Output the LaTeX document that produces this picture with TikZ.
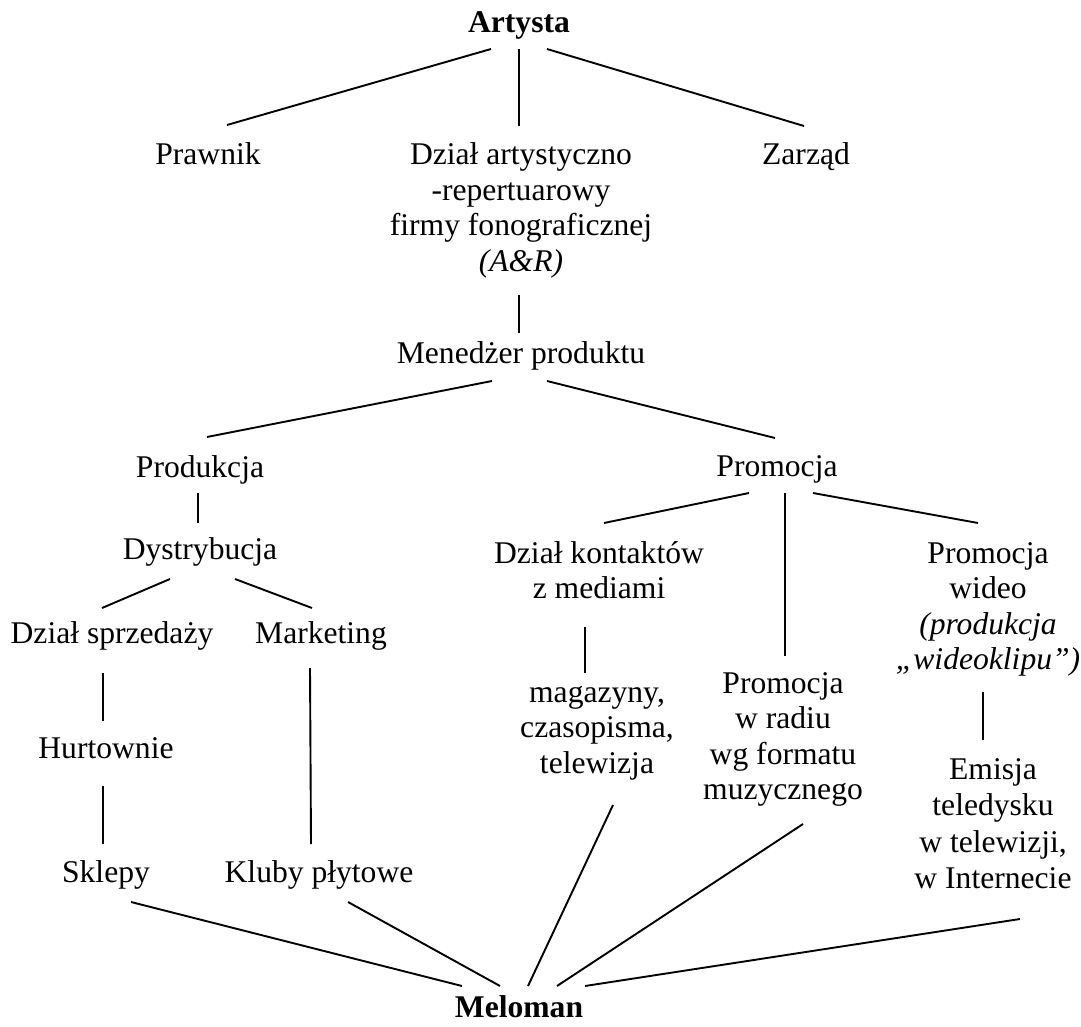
\documentclass[tikz,border=0pt]{standalone}
\usepackage{fontspec}
\setmainfont{Liberation Serif}
\usetikzlibrary{calc}
\newcommand{\mlt}[1]{\begin{tabular}[t]{@{}c@{}}#1\end{tabular}}
\begin{document}
\begin{tikzpicture}[x=0.5pt,y=-0.5pt,
  lbl/.style={font=\fontsize{15.8}{17.75}\selectfont, inner sep=0pt, anchor=base},
  conn/.style={line width=0.95pt}]
\useasboundingbox (0,0) rectangle (1081,1027);
% nodes
\node[lbl] (artysta) at (519,33) {\textbf{Artysta}};
\node[lbl] (prawnik) at (208,165) {Prawnik};
\node[lbl] (ar) at (521,165) {\mlt{Dział artystyczno\\-repertuarowy\\firmy fonograficznej\\\textit{(A\&R)}}};
\node[lbl] (zarzad) at (806,165) {Zarząd};
\node[lbl] (menedzer) at (521,363) {Menedżer produktu};
\node[lbl] (produkcja) at (200,477) {Produkcja};
\node[lbl] (promocja) at (777,476) {Promocja};
\node[lbl] (dystr) at (200,559) {Dystrybucja};
\node[lbl] (kontakty) at (599,563) {\mlt{Dział kontaktów\\z mediami}};
\node[lbl] (wideo) at (988,563) {\mlt{Promocja\\wideo\\\textit{(produkcja}\\\textit{„wideoklipu”)}}};
\node[lbl] (sprzedaz) at (112,643) {Dział sprzedaży};
\node[lbl] (marketing) at (321,643) {Marketing};
\node[lbl] (magazyny) at (597,702) {\mlt{magazyny,\\czasopisma,\\telewizja}};
\node[lbl] (radio) at (783,693) {\mlt{Promocja\\w radiu\\wg formatu\\muzycznego}};
\node[lbl] (emisja) at (993,779) {\renewcommand{\arraystretch}{1.03}\mlt{Emisja\\teledysku\\w telewizji,\\w Internecie}};
\node[lbl] (hurtownie) at (106,758) {Hurtownie};
\node[lbl] (sklepy) at (106,882) {Sklepy};
\node[lbl] (kluby) at (319,882) {Kluby płytowe};
\node[lbl] (meloman) at (519,1017) {\textbf{Meloman}};
% connectors
\draw[conn] ($(artysta.base)+(-28,16)$) -- ($(prawnik.base)+(19,-40)$);
\draw[conn] ($(artysta.base)+(0,16)$) -- ($(ar.base)+(-2,-39)$);
\draw[conn] ($(artysta.base)+(28,16)$) -- ($(zarzad.base)+(-2,-39)$);
\draw[conn] ($(ar.base)+(-2,130)$) -- ($(menedzer.base)+(-2,-30)$);
\draw[conn] ($(menedzer.base)+(-29,18)$) -- ($(produkcja.base)+(7,-40)$);
\draw[conn] ($(menedzer.base)+(26,18)$) -- ($(promocja.base)+(-2,-38)$);
\draw[conn] ($(produkcja.base)+(-2,16)$) -- ($(dystr.base)+(-2,-36)$);
\draw[conn] ($(dystr.base)+(-30,20)$) -- ($(sprzedaz.base)+(-10,-35)$);
\draw[conn] ($(dystr.base)+(35,20)$) -- ($(marketing.base)+(-9,-35)$);
\draw[conn] ($(promocja.base)+(-28,17)$) -- ($(kontakty.base)+(5,-40)$);
\draw[conn] ($(promocja.base)+(8,17)$) -- ($(radio.base)+(2,-37)$);
\draw[conn] ($(promocja.base)+(36,17)$) -- ($(wideo.base)+(-10,-40)$);
\draw[conn] ($(kontakty.base)+(-14,64)$) -- ($(magazyny.base)+(-12,-29)$);
\draw[conn] ($(wideo.base)+(-5,129)$) -- ($(emisja.base)+(-10,-39)$);
\draw[conn] ($(sprzedaz.base)+(-9,30)$) -- ($(hurtownie.base)+(-3,-37)$);
\draw[conn] ($(hurtownie.base)+(-3,28)$) -- ($(sklepy.base)+(-3,-38)$);
\draw[conn] ($(marketing.base)+(-11,25)$) -- ($(kluby.base)+(-8,-38)$);
\draw[conn] ($(sklepy.base)+(25,20)$) -- ($(meloman.base)+(-57,-31)$);
\draw[conn] ($(kluby.base)+(29,20)$) -- ($(meloman.base)+(-19,-31)$);
\draw[conn] ($(magazyny.base)+(16,103)$) -- ($(meloman.base)+(9,-31)$);
\draw[conn] ($(radio.base)+(20,131)$) -- ($(meloman.base)+(38,-31)$);
\draw[conn] ($(emisja.base)+(27,140)$) -- ($(meloman.base)+(66,-31)$);
\end{tikzpicture}
\end{document}
